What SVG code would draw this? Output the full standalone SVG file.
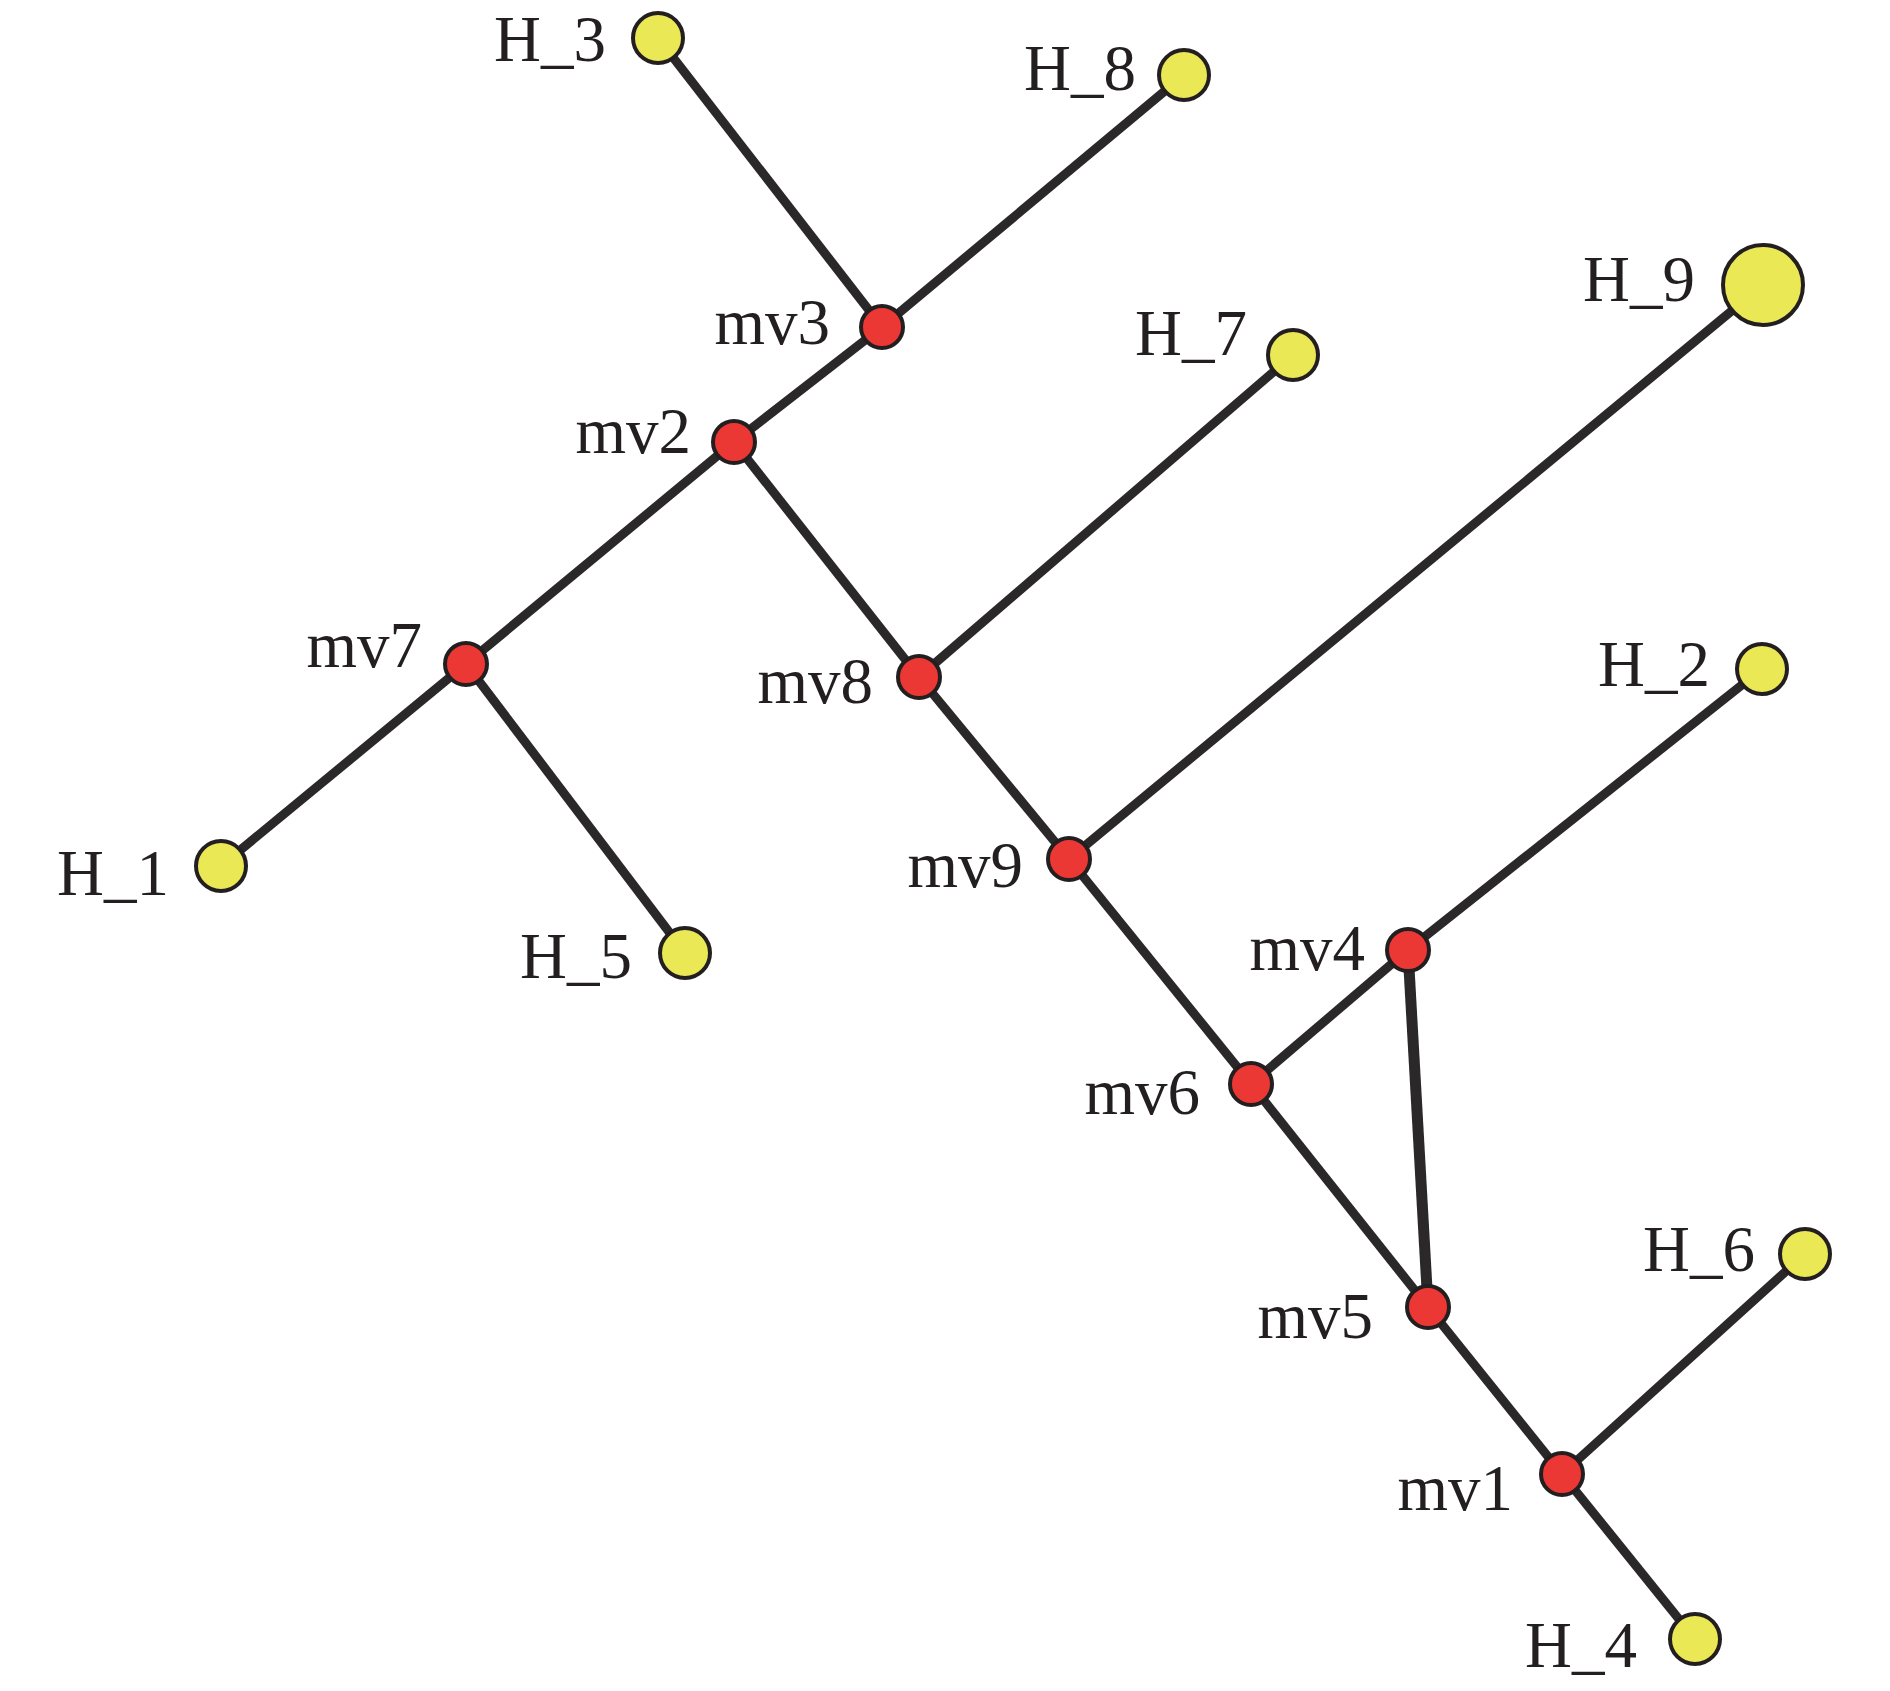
<svg xmlns="http://www.w3.org/2000/svg" width="1890" height="1691" viewBox="0 0 1890 1691">
<style>
.e{stroke:#2a2828;stroke-width:9;fill:none;stroke-linecap:butt}
.h{fill:#ebe856;stroke:#231f20;stroke-width:4}
.m{fill:#ec3834;stroke:#231f20;stroke-width:4}
text{font-family:"Liberation Serif","Times New Roman",serif;font-size:65px;fill:#231f20;text-anchor:end}
</style>
<rect width="1890" height="1691" fill="#fff"/>
<g id="edges">
<line class="e" x1="658" y1="38" x2="882" y2="327"/>
<line class="e" x1="1184" y1="75" x2="882" y2="327"/>
<line class="e" x1="882" y1="327" x2="734" y2="442"/>
<line class="e" x1="734" y1="442" x2="466" y2="664"/>
<line class="e" x1="734" y1="442" x2="919" y2="677"/>
<line class="e" x1="466" y1="664" x2="221" y2="866"/>
<line class="e" x1="466" y1="664" x2="685" y2="953"/>
<line class="e" x1="919" y1="677" x2="1293" y2="355"/>
<line class="e" x1="919" y1="677" x2="1069" y2="859"/>
<line class="e" x1="1069" y1="859" x2="1763" y2="285"/>
<line class="e" x1="1069" y1="859" x2="1251" y2="1084"/>
<line class="e" x1="1251" y1="1084" x2="1408" y2="950"/>
<line class="e" x1="1408" y1="950" x2="1762" y2="669"/>
<line class="e" x1="1408" y1="950" x2="1428" y2="1307" style="stroke-width:11"/>
<line class="e" x1="1251" y1="1084" x2="1428" y2="1307"/>
<line class="e" x1="1428" y1="1307" x2="1562" y2="1474"/>
<line class="e" x1="1562" y1="1474" x2="1805" y2="1254"/>
<line class="e" x1="1562" y1="1474" x2="1695" y2="1639"/>
</g>
<g id="H_3"><circle class="h" cx="658" cy="38" r="25"/><text x="606" y="61">H_3</text></g>
<g id="H_8"><circle class="h" cx="1184" cy="75" r="25"/><text x="1136" y="90">H_8</text></g>
<g id="mv3"><circle class="m" cx="882" cy="327" r="21"/><text x="830" y="344">mv3</text></g>
<g id="mv2"><circle class="m" cx="734" cy="442" r="21"/><text x="691" y="453">mv2</text></g>
<g id="H_7"><circle class="h" cx="1293" cy="355" r="25"/><text x="1247" y="355">H_7</text></g>
<g id="H_9"><circle class="h" cx="1763" cy="285" r="40"/><text x="1695" y="301">H_9</text></g>
<g id="mv7"><circle class="m" cx="466" cy="664" r="21"/><text x="422" y="667">mv7</text></g>
<g id="mv8"><circle class="m" cx="919" cy="677" r="21"/><text x="873" y="703">mv8</text></g>
<g id="H_2"><circle class="h" cx="1762" cy="669" r="25"/><text x="1710" y="686">H_2</text></g>
<g id="H_1"><circle class="h" cx="221" cy="866" r="25"/><text x="169" y="895">H_1</text></g>
<g id="H_5"><circle class="h" cx="685" cy="953" r="25"/><text x="632" y="978">H_5</text></g>
<g id="mv9"><circle class="m" cx="1069" cy="859" r="21"/><text x="1023" y="887">mv9</text></g>
<g id="mv4"><circle class="m" cx="1408" cy="950" r="21"/><text x="1365" y="970">mv4</text></g>
<g id="mv6"><circle class="m" cx="1251" cy="1084" r="21"/><text x="1200" y="1114">mv6</text></g>
<g id="H_6"><circle class="h" cx="1805" cy="1254" r="25"/><text x="1755" y="1271">H_6</text></g>
<g id="mv5"><circle class="m" cx="1428" cy="1307" r="21"/><text x="1373" y="1338">mv5</text></g>
<g id="mv1"><circle class="m" cx="1562" cy="1474" r="21"/><text x="1513" y="1510">mv1</text></g>
<g id="H_4"><circle class="h" cx="1695" cy="1639" r="25"/><text x="1637" y="1667">H_4</text></g>
</svg>
